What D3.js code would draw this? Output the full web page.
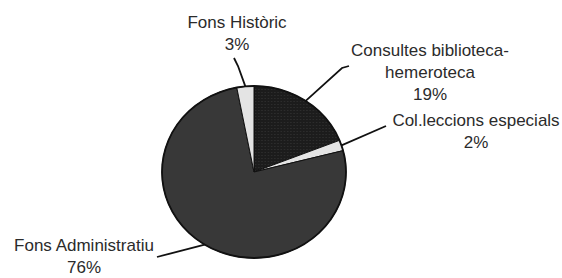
<!DOCTYPE html>
<html>
<head>
<meta charset="utf-8">
<script src="https://cdn.jsdelivr.net/npm/d3@7"></script>
<style>
  body { margin: 0; background: #fff; }
  text { font-family: "Liberation Sans", Arial, sans-serif; fill: #2b2b2b; }
</style>
</head>
<body>
<div id="chart"></div>
<script>
// data (clockwise from 12 o'clock)
const categories = ["Consultes biblioteca-hemeroteca", "Col.leccions especials", "Fons Administratiu", "Fons Històric"];
const values = [19, 2, 76, 3];
const labelLines = [
  ["Consultes biblioteca-", "hemeroteca", "19%"],
  ["Col.leccions especials", "2%"],
  ["Fons Administratiu", "76%"],
  ["Fons Històric", "3%"]
];

const width = 562, height = 278;
const cx = 254, cy = 172, rx = 92, ry = 86;

const colors = ["url(#dots)", "#e4e4e4", "#383838", "#e4e4e4"];

// label placement: text anchor + leader line bends
const labelPos = [
  { x: 430, y: 56, bends: [[342, 68], [349, 66]] },
  { x: 476, y: 126, bends: [[386, 126]] },
  { x: 84, y: 251, bends: [[157, 257]] },
  { x: 237, y: 28, bends: [[238, 66], [234, 58]] }
];

const svg = d3.select('#chart')
  .append('svg')
  .attr('width', width)
  .attr('height', height);

// dotted texture for the dark slice
const pat = svg.append('defs').append('pattern')
  .attr('id', 'dots')
  .attr('width', 3).attr('height', 3)
  .attr('patternUnits', 'userSpaceOnUse');
pat.append('rect').attr('width', 3).attr('height', 3).attr('fill', '#1c1c1c');
pat.append('rect').attr('x', 1).attr('y', 1).attr('width', 1).attr('height', 1).attr('fill', '#333');

const pie = d3.pie().sort(null).value(d => d);
const arcs = pie(values);
const arc = d3.arc().innerRadius(0).outerRadius(ry);

const g = svg.append('g')
  .attr('transform', `translate(${cx},${cy}) scale(${rx / ry},1)`);

g.selectAll('path')
  .data(arcs)
  .enter()
  .append('path')
  .attr('d', arc)
  .attr('fill', (d, i) => colors[i])
  .attr('stroke', '#111')
  .attr('stroke-width', 1)
  .attr('vector-effect', 'non-scaling-stroke');

// outline of the whole pie
g.append('ellipse')
  .attr('rx', ry).attr('ry', ry)
  .attr('fill', 'none')
  .attr('stroke', '#111')
  .attr('stroke-width', 1.8)
  .attr('vector-effect', 'non-scaling-stroke');

// leader lines, starting on the rim at each slice's mid angle
const line = d3.line().curve(d3.curveLinear);
arcs.forEach((d, i) => {
  const a = (d.startAngle + d.endAngle) / 2;
  const start = [cx + Math.sin(a) * rx, cy - Math.cos(a) * ry];
  svg.append('path')
    .attr('d', line([start, ...labelPos[i].bends]))
    .attr('fill', 'none')
    .attr('stroke', '#111')
    .attr('stroke-width', 1.8);
});

// labels
labelLines.forEach((lines, i) => {
  const t = svg.append('text')
    .attr('text-anchor', 'middle')
    .attr('font-size', 17);
  lines.forEach((s, j) => {
    t.append('tspan')
      .attr('x', labelPos[i].x)
      .attr('y', labelPos[i].y + j * 22)
      .text(s);
  });
});
</script>
</body>
</html>
